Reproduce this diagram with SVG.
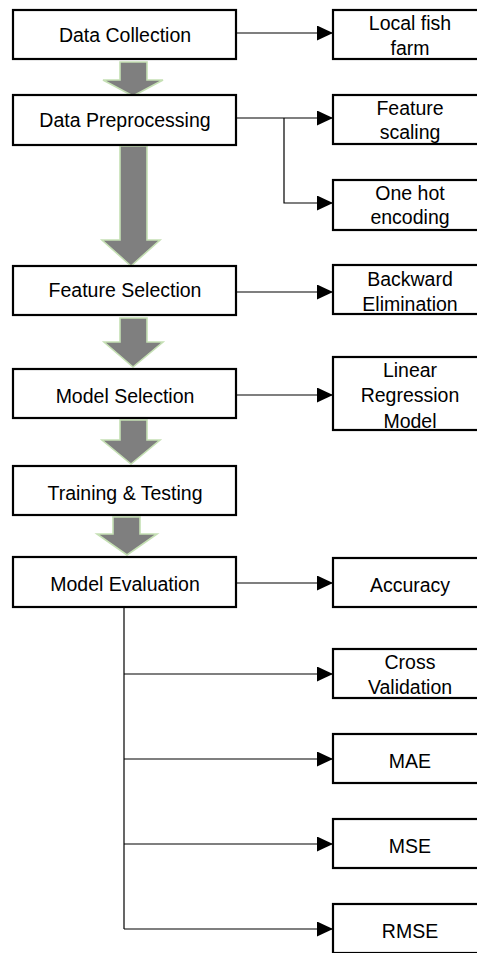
<svg xmlns="http://www.w3.org/2000/svg" width="477" height="953" viewBox="0 0 477 953">
  <style>
    .box { fill: #ffffff; stroke: #000000; stroke-width: 2.2; }
    .lbl { font-family: "Liberation Sans", Arial, sans-serif; font-size: 19.5px; fill: #000000; text-anchor: middle; }
    .flow { fill: #7f7f7f; stroke: #c5e0b4; stroke-width: 1.6; stroke-linejoin: miter; }
    .link { fill: none; stroke: #000000; stroke-width: 1.2; }
  </style>
  <defs>
    <marker id="tri" markerWidth="16" markerHeight="15" refX="16" refY="7.5" orient="auto" markerUnits="userSpaceOnUse">
      <path d="M0,0 L16,7.5 L0,15 Z" fill="#000000"/>
    </marker>
  </defs>
  <rect width="477" height="953" fill="#ffffff"/>

  <!-- block arrows between pipeline stages -->
  <g id="flow-arrows">
    <path class="flow" d="M120,62 H147 V80 H163 L133,96 L103,80 H120 Z"/>
    <path class="flow" d="M120,146 H147 V240 H160 L131,266 L102,240 H120 Z"/>
    <path class="flow" d="M120,318 H147 V342 H163 L133,367 L104,342 H120 Z"/>
    <path class="flow" d="M120,420 H147 V440 H160 L131,464 L102,440 H120 Z"/>
    <path class="flow" d="M113,517 H140 V534 H157 L127,555 L97,534 H113 Z"/>
  </g>

  <!-- connectors -->
  <g id="connectors">
    <path class="link" d="M236,33 H333" marker-end="url(#tri)"/>
    <path class="link" d="M236,118 H333" marker-end="url(#tri)"/>
    <path class="link" d="M284,118 V203 H333" marker-end="url(#tri)"/>
    <path class="link" d="M236,292 H333" marker-end="url(#tri)"/>
    <path class="link" d="M236,395 H333" marker-end="url(#tri)"/>
    <path class="link" d="M236,583 H333" marker-end="url(#tri)"/>
    <path class="link" d="M124,607 V929"/>
    <path class="link" d="M124,674 H333" marker-end="url(#tri)"/>
    <path class="link" d="M124,759 H333" marker-end="url(#tri)"/>
    <path class="link" d="M124,844 H333" marker-end="url(#tri)"/>
    <path class="link" d="M124,929 H333" marker-end="url(#tri)"/>
  </g>

  <!-- pipeline stages -->
  <g id="data-collection">
    <rect class="box" x="13" y="10" width="223" height="49"/>
    <text class="lbl" x="125" y="42">Data Collection</text>
  </g>
  <g id="data-preprocessing">
    <rect class="box" x="13" y="95" width="223" height="50"/>
    <text class="lbl" x="125" y="127">Data Preprocessing</text>
  </g>
  <g id="feature-selection">
    <rect class="box" x="13" y="266" width="223" height="49"/>
    <text class="lbl" x="125" y="297">Feature Selection</text>
  </g>
  <g id="model-selection">
    <rect class="box" x="13" y="369" width="223" height="49"/>
    <text class="lbl" x="125" y="403">Model Selection</text>
  </g>
  <g id="training-testing">
    <rect class="box" x="13" y="466" width="223" height="49"/>
    <text class="lbl" x="125" y="500">Training &amp; Testing</text>
  </g>
  <g id="model-evaluation">
    <rect class="box" x="13" y="557" width="223" height="50"/>
    <text class="lbl" x="125" y="591">Model Evaluation</text>
  </g>

  <!-- side details -->
  <g id="local-fish-farm">
    <rect class="box" x="333" y="10" width="160" height="49"/>
    <text class="lbl" x="410" y="30">Local fish</text>
    <text class="lbl" x="410" y="55">farm</text>
  </g>
  <g id="feature-scaling">
    <rect class="box" x="333" y="95" width="160" height="49"/>
    <text class="lbl" x="410" y="115">Feature</text>
    <text class="lbl" x="410" y="139">scaling</text>
  </g>
  <g id="one-hot-encoding">
    <rect class="box" x="333" y="180" width="160" height="50"/>
    <text class="lbl" x="410" y="200">One hot</text>
    <text class="lbl" x="410" y="224">encoding</text>
  </g>
  <g id="backward-elimination">
    <rect class="box" x="333" y="265" width="160" height="49"/>
    <text class="lbl" x="410" y="286">Backward</text>
    <text class="lbl" x="410" y="311">Elimination</text>
  </g>
  <g id="linear-regression-model">
    <rect class="box" x="333" y="357" width="160" height="73"/>
    <text class="lbl" x="410" y="377">Linear</text>
    <text class="lbl" x="410" y="402">Regression</text>
    <text class="lbl" x="410" y="428">Model</text>
  </g>
  <g id="accuracy">
    <rect class="box" x="333" y="558" width="160" height="49"/>
    <text class="lbl" x="410" y="592">Accuracy</text>
  </g>
  <g id="cross-validation">
    <rect class="box" x="333" y="649" width="160" height="49"/>
    <text class="lbl" x="410" y="669">Cross</text>
    <text class="lbl" x="410" y="694">Validation</text>
  </g>
  <g id="mae">
    <rect class="box" x="333" y="734" width="160" height="49"/>
    <text class="lbl" x="410" y="768">MAE</text>
  </g>
  <g id="mse">
    <rect class="box" x="333" y="819" width="160" height="49"/>
    <text class="lbl" x="410" y="853">MSE</text>
  </g>
  <g id="rmse">
    <rect class="box" x="333" y="904" width="160" height="49"/>
    <text class="lbl" x="410" y="938">RMSE</text>
  </g>
</svg>
